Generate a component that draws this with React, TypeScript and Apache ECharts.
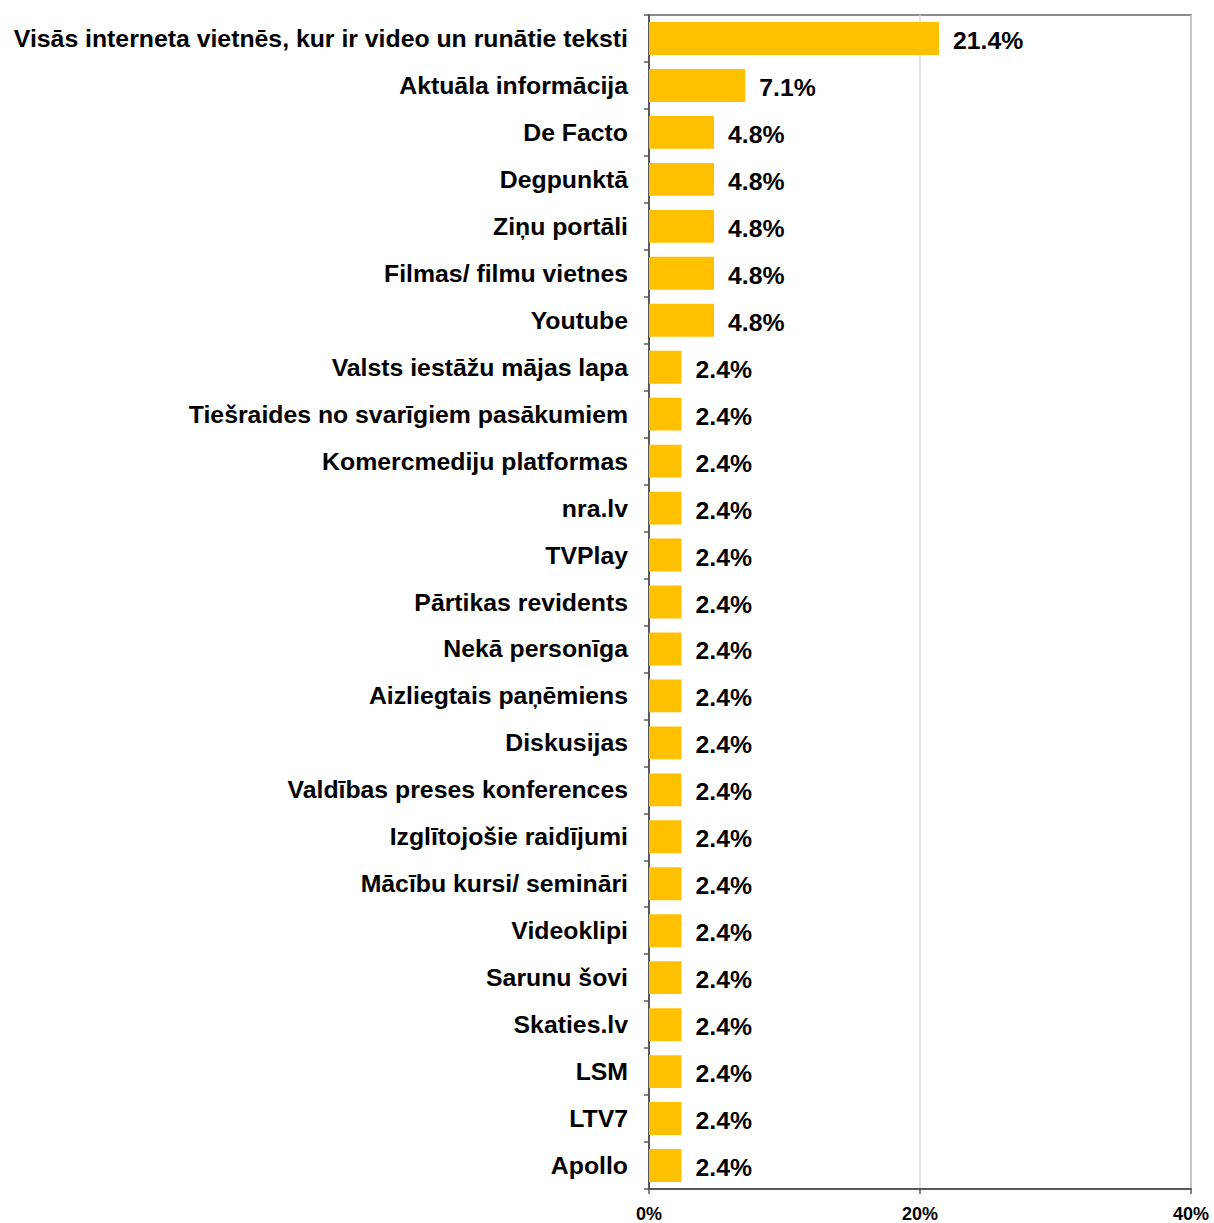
import React, { useEffect, useRef } from "react";
import * as echarts from "echarts";

const categories = [
  "Visās interneta vietnēs, kur ir video un runātie teksti",
  "Aktuāla informācija",
  "De Facto",
  "Degpunktā",
  "Ziņu portāli",
  "Filmas/ filmu vietnes",
  "Youtube",
  "Valsts iestāžu mājas lapa",
  "Tiešraides no svarīgiem pasākumiem",
  "Komercmediju platformas",
  "nra.lv",
  "TVPlay",
  "Pārtikas revidents",
  "Nekā personīga",
  "Aizliegtais paņēmiens",
  "Diskusijas",
  "Valdības preses konferences",
  "Izglītojošie raidījumi",
  "Mācību kursi/ semināri",
  "Videoklipi",
  "Sarunu šovi",
  "Skaties.lv",
  "LSM",
  "LTV7",
  "Apollo",
];

const values = [
  21.4, 7.1, 4.8, 4.8, 4.8, 4.8, 4.8, 2.4, 2.4, 2.4, 2.4, 2.4, 2.4, 2.4, 2.4,
  2.4, 2.4, 2.4, 2.4, 2.4, 2.4, 2.4, 2.4, 2.4, 2.4,
];

const axisMin = 0;
const axisMax = 40;
const axisStep = 20;

const FONT = "'Liberation Sans', Arial, sans-serif";

export default function App() {
  const ref = useRef<HTMLDivElement>(null);

  useEffect(() => {
    document.body.style.margin = "0";
    if (!ref.current) return;
    const chart = echarts.init(ref.current, null, { renderer: "svg" });
    chart.setOption({
      animation: false,
      backgroundColor: "#ffffff",
      grid: {
        left: 649,
        right: 23,
        top: 15,
        bottom: 32,
        show: true,
        borderColor: "#8c8c8c",
        borderWidth: 2,
        backgroundColor: "transparent",
      },
      xAxis: {
        type: "value",
        min: axisMin,
        max: axisMax,
        interval: axisStep,
        axisLine: { show: true, lineStyle: { color: "#595959", width: 2 } },
        axisTick: { show: true, length: 5, lineStyle: { color: "#595959", width: 1.5 } },
        splitLine: { show: true, lineStyle: { color: "#d9d9d9", width: 1.5 } },
        axisLabel: {
          formatter: "{value}%",
          color: "#000",
          fontFamily: FONT,
          fontWeight: "bold",
          fontSize: 18,
          margin: 16,
        },
      },
      yAxis: {
        type: "category",
        data: categories,
        inverse: true,
        axisLine: { show: true, lineStyle: { color: "#595959", width: 2 } },
        axisTick: { show: true, length: 5, lineStyle: { color: "#595959", width: 1.5 } },
        axisLabel: {
          color: "#000",
          fontFamily: FONT,
          fontWeight: "bold",
          fontSize: 24.8,
          margin: 21,
        },
      },
      series: [
        {
          type: "bar",
          data: values,
          barCategoryGap: "30%",
          itemStyle: { color: "#FFC000" },
          label: {
            show: true,
            position: "right",
            distance: 14,
            offset: [0, 2],
            formatter: (p: any) => p.value.toFixed(1) + "%",
            color: "#000",
            fontFamily: FONT,
            fontWeight: "bold",
            fontSize: 24.8,
          },
        },
      ],
    });
    return () => chart.dispose();
  }, []);

  return <div ref={ref} style={{ width: 1214, height: 1223 }} />;
}
